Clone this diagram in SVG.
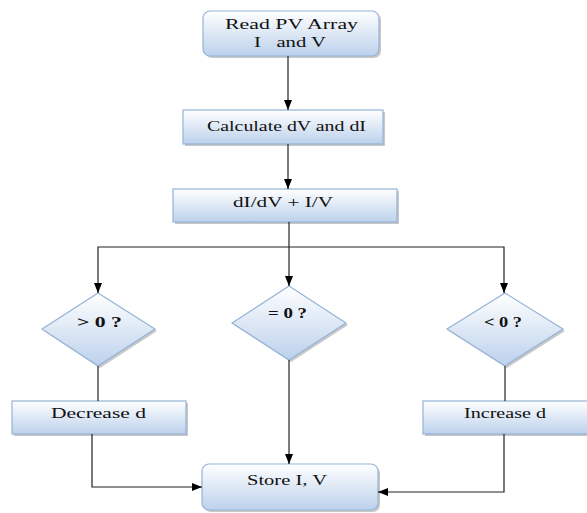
<svg xmlns="http://www.w3.org/2000/svg" width="587" height="513" viewBox="0 0 587 513">
<defs>
<linearGradient id="g" x1="0" y1="0" x2="0" y2="1">
<stop offset="0" stop-color="#ffffff"/>
<stop offset="1" stop-color="#bcd1ec"/>
</linearGradient>
<marker id="ah" markerWidth="10" markerHeight="8" refX="10" refY="4" orient="auto" markerUnits="userSpaceOnUse">
<path d="M0,0 L10,4 L0,8 Z" fill="#000"/>
</marker>
</defs>
<style>
.sh{fill:#9a9a9a;opacity:0.55}
.bx{fill:url(#g);stroke:#95b3d7;stroke-width:1.2}
.t{font-family:"Liberation Serif","Times New Roman",serif;font-size:14px;fill:#111;text-anchor:start}
.tb{font-weight:bold}
.c{fill:none;stroke:#222;stroke-width:1.2}
.ca{marker-end:url(#ah)}
</style>
<rect width="587" height="513" fill="#fff"/>

<g id="read">
<rect class="sh" x="205" y="13" width="176" height="45" rx="7"/>
<rect class="bx" x="203" y="11" width="176" height="45" rx="7"/>
<text class="t" x="225" y="29" textLength="133" lengthAdjust="spacingAndGlyphs">Read PV Array</text>
<text class="t" x="254" y="47" textLength="72" lengthAdjust="spacingAndGlyphs" xml:space="preserve">I   and V</text>
</g>

<g id="calc">
<rect class="sh" x="185" y="112" width="200" height="34"/>
<rect class="bx" x="183" y="110" width="200" height="34"/>
<text class="t" x="207" y="131" textLength="159" lengthAdjust="spacingAndGlyphs">Calculate dV and dI</text>
</g>

<g id="didv">
<rect class="sh" x="175" y="191" width="224" height="33"/>
<rect class="bx" x="173" y="189" width="224" height="33"/>
<text class="t" x="233" y="207" textLength="100" lengthAdjust="spacingAndGlyphs">dI/dV + I/V</text>
</g>

<g id="gt0">
<polygon class="sh" points="100,295 157,331 100,368 44,331"/>
<polygon class="bx" points="98,293 155,329 98,366 42,329"/>
<text class="t tb" x="77" y="327" textLength="45" lengthAdjust="spacingAndGlyphs">&gt; 0 ?</text>
</g>

<g id="eq0">
<polygon class="sh" points="291,288 348,325 291,362 234,325"/>
<polygon class="bx" points="289,286 346,323 289,360 232,323"/>
<text class="t tb" x="268" y="318" textLength="39" lengthAdjust="spacingAndGlyphs">= 0 ?</text>
</g>

<g id="lt0">
<polygon class="sh" points="507,295 565,331 507,368 449,331"/>
<polygon class="bx" points="505,293 563,329 505,366 447,329"/>
<text class="t tb" x="484" y="327" textLength="38" lengthAdjust="spacingAndGlyphs">&lt; 0 ?</text>
</g>

<g id="dec">
<rect class="sh" x="14" y="403" width="174" height="33"/>
<rect class="bx" x="12" y="401" width="174" height="33"/>
<text class="t" x="51" y="418" textLength="95" lengthAdjust="spacingAndGlyphs">Decrease d</text>
</g>

<g id="inc">
<rect class="sh" x="425" y="403" width="170" height="33"/>
<rect class="bx" x="423" y="401" width="170" height="33"/>
<text class="t" x="464" y="418" textLength="82" lengthAdjust="spacingAndGlyphs">Increase d</text>
</g>

<g id="store">
<rect class="sh" x="204" y="466" width="176" height="46" rx="7"/>
<rect class="bx" x="202" y="464" width="176" height="46" rx="7"/>
<text class="t" x="247" y="485" textLength="80" lengthAdjust="spacingAndGlyphs">Store I, V</text>
</g>

<g id="connectors">
<line class="c ca" x1="288" y1="56" x2="288" y2="110"/>
<line class="c ca" x1="288" y1="144" x2="288" y2="189"/>
<polyline class="c" points="289,222 289,247"/>
<polyline class="c ca" points="289,247 98,247 98,293"/>
<line class="c ca" x1="289" y1="247" x2="289" y2="286"/>
<polyline class="c ca" points="289,247 504,247 504,293"/>
<line class="c" x1="98" y1="366" x2="98" y2="401"/>
<line class="c" x1="505" y1="366" x2="505" y2="401"/>
<line class="c ca" x1="289" y1="360" x2="289" y2="464"/>
<polyline class="c ca" points="92,434 92,487 202,487"/>
<polyline class="c ca" points="504,434 504,492 378,492"/>
</g>
</svg>
